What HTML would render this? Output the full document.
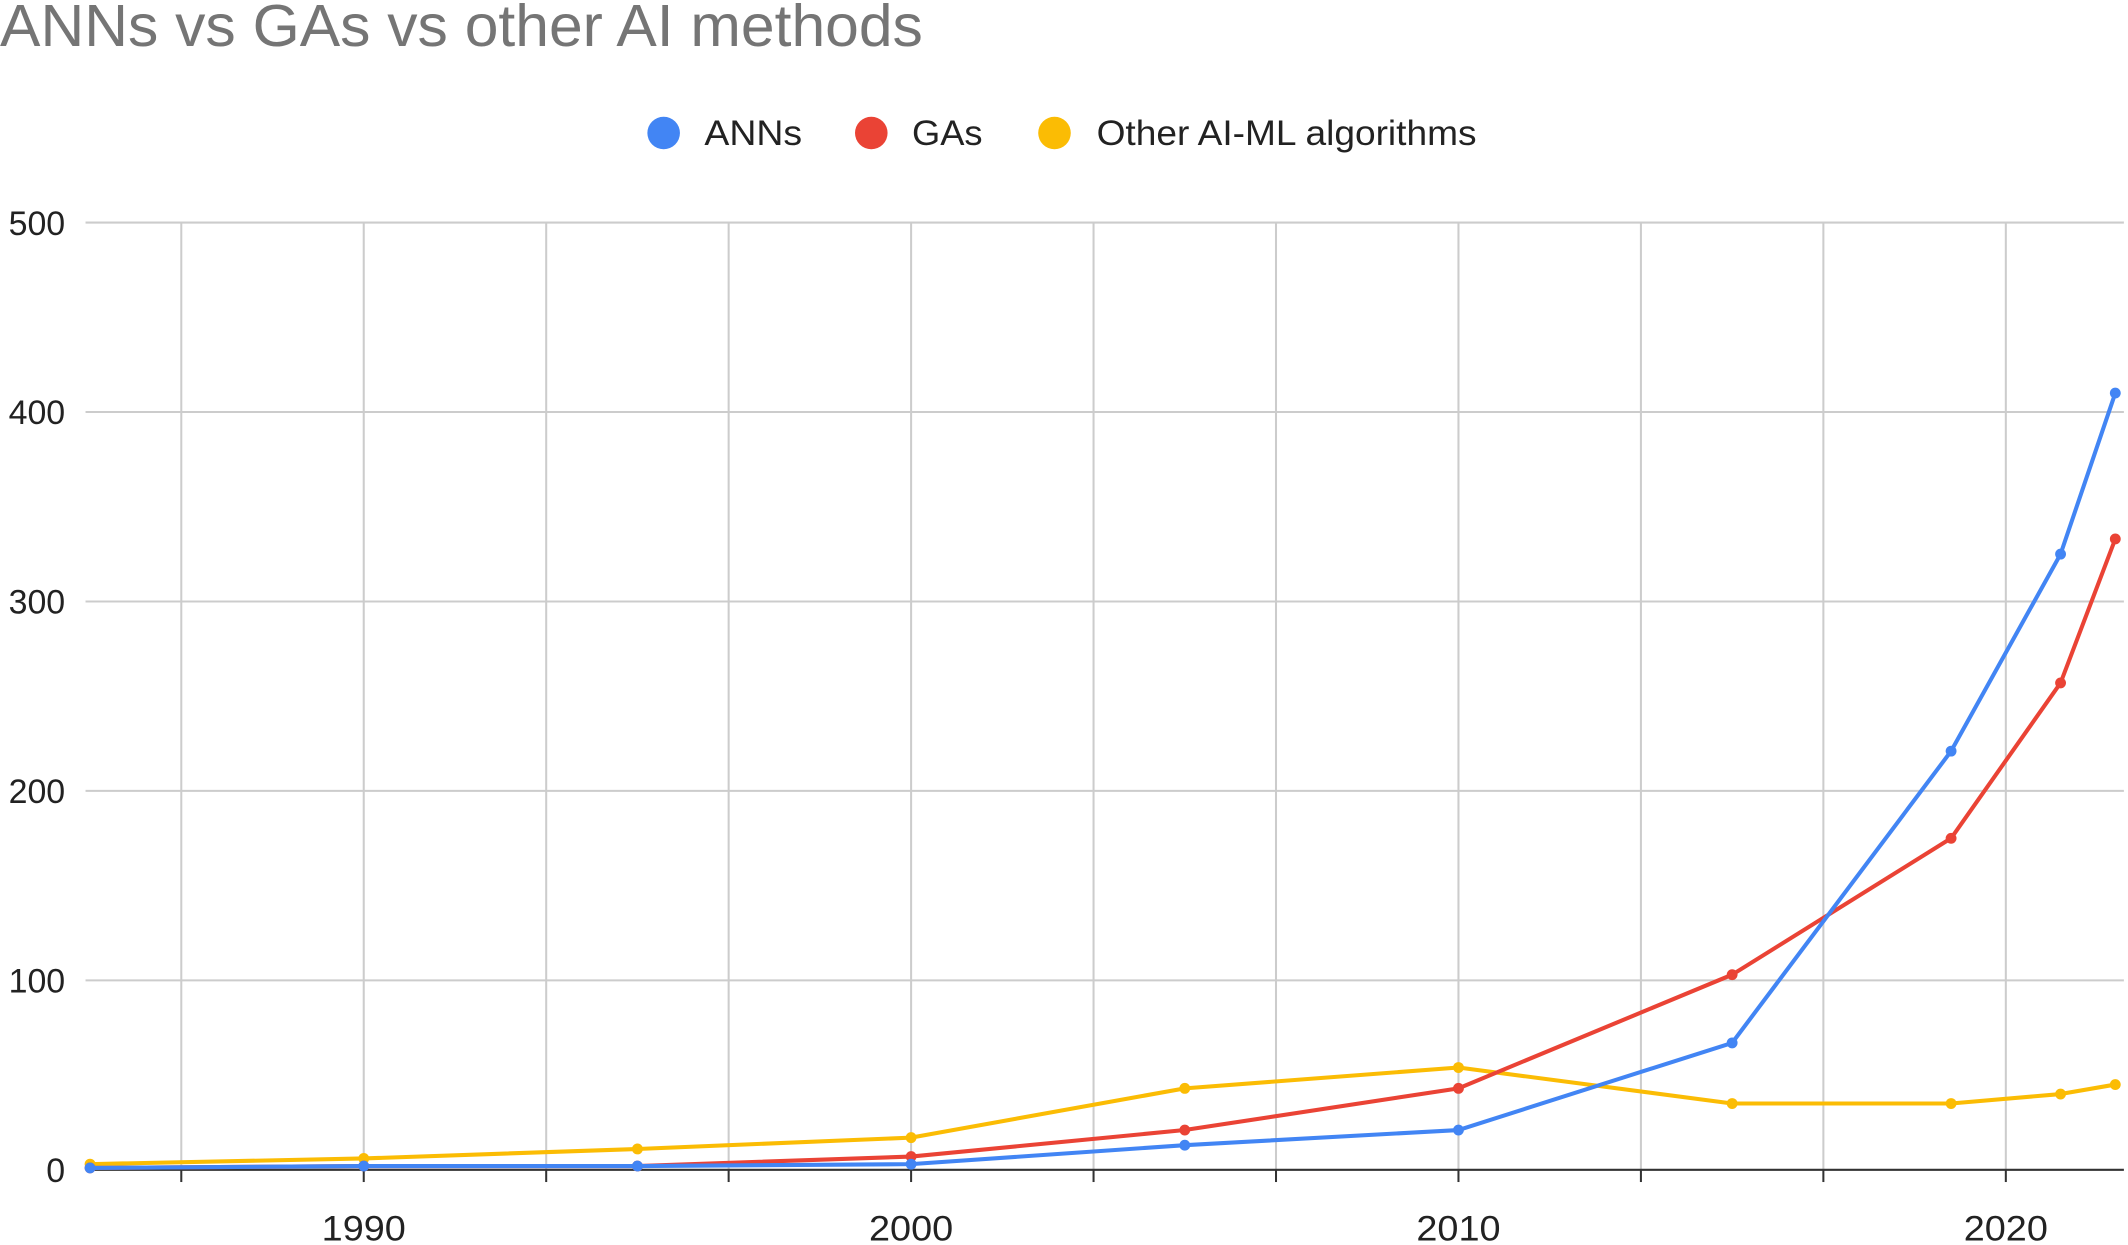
<!DOCTYPE html>
<html><head><meta charset="utf-8"><style>html,body{margin:0;padding:0;background:#fff}svg{display:block}</style></head>
<body>
<svg id="chart" width="2128" height="1245" viewBox="0 0 1568 917.4" xmlns="http://www.w3.org/2000/svg" font-family="Liberation Sans, Arial, sans-serif">
<text x="0" y="34" font-size="44" fill="#757575" textLength="680" lengthAdjust="spacingAndGlyphs">ANNs vs GAs vs other AI methods</text>
<g>
<g><circle cx="489" cy="98" r="12" fill="#4285F4"/><text x="519" y="107" font-size="26" fill="#222" textLength="72" lengthAdjust="spacingAndGlyphs">ANNs</text></g>
<g><circle cx="642" cy="98" r="12" fill="#EA4335"/><text x="672" y="107" font-size="26" fill="#222" textLength="52" lengthAdjust="spacingAndGlyphs">GAs</text></g>
<g><circle cx="777" cy="98" r="12" fill="#FBBC04"/><text x="808" y="107" font-size="26" fill="#222" textLength="280" lengthAdjust="spacingAndGlyphs">Other AI-ML algorithms</text></g>
</g>
<g id="grid"></g><g id="axes"></g><g id="series"></g>
</svg>
<script>
const years = [1985, 1990, 1995, 2000, 2005, 2010, 2015, 2019, 2021, 2022];
const anns = [1, 2, 2, 3, 13, 21, 67, 221, 325, 410];
const gas = [1, 2, 2, 7, 21, 43, 103, 175, 257, 333];
const other = [3, 6, 11, 17, 43, 54, 35, 35, 40, 45];
const yTicks = [0, 100, 200, 300, 400, 500];
const xTickLabels = [1990, 2000, 2010, 2020];
const NS = 'http://www.w3.org/2000/svg';
const L = 63, R = 1565, T = 164, B = 862;
function xs(v){ return 268 + (v - 1990) * (1478 - 268) / 30; }
function ys(v){ return B - v * (B - T) / 500; }
function mk(tag, attrs, parent){ const e = document.createElementNS(NS, tag); for (const k in attrs) e.setAttribute(k, attrs[k]); parent.appendChild(e); return e; }
const grid = document.getElementById('grid'), axes = document.getElementById('axes'), ser = document.getElementById('series');
yTicks.forEach(t => {
  if (t > 0) { const g = mk('line', {x1: L, x2: R, y1: ys(t), y2: ys(t), stroke: '#ccc', 'stroke-width': 1.5}, grid);
    }
  const tx = mk('text', {x: 48, y: ys(t) + 9, 'font-size': 25, 'text-anchor': 'end', fill: '#222'}, axes);
  tx.textContent = t;
   
});
for (let k = -1; k <= 10; k++) {
  const yr = 1990 + k * 10 / 3; const x = xs(yr);
  if (x < L || x > R) continue;
  const g = mk('line', {x1: x, x2: x, y1: T, y2: B, stroke: '#ccc', 'stroke-width': 1.5}, grid);
   
  const tk = mk('line', {x1: x, x2: x, y1: B, y2: B + 9, stroke: '#333', 'stroke-width': 1.5}, axes);
   
}
const ax = mk('line', {x1: L, x2: R, y1: B, y2: B, stroke: '#333', 'stroke-width': 1.5}, axes);
 
xTickLabels.forEach(t => {
  const tx = mk('text', {x: xs(t), y: 914, 'font-size': 26, 'text-anchor': 'middle', fill: '#222', textLength: 62, lengthAdjust: 'spacingAndGlyphs'}, axes);
  tx.textContent = t;
   
});
[[other, '#FBBC04', 'other'], [gas, '#EA4335', 'gas'], [anns, '#4285F4', 'anns']].forEach(([vals, col, nm]) => {
  const d = vals.map((v, i) => (i ? 'L' : 'M') + xs(years[i]) + ',' + ys(v)).join(' ');
  const p = mk('path', {d: d, fill: 'none', stroke: col, 'stroke-width': 3, 'stroke-linejoin': 'round'}, ser);
   
  vals.forEach((v, i) => {
    const c = mk('circle', {cx: xs(years[i]), cy: ys(v), r: 4, fill: col}, ser);
     
  });
});
</script>
</body></html>
